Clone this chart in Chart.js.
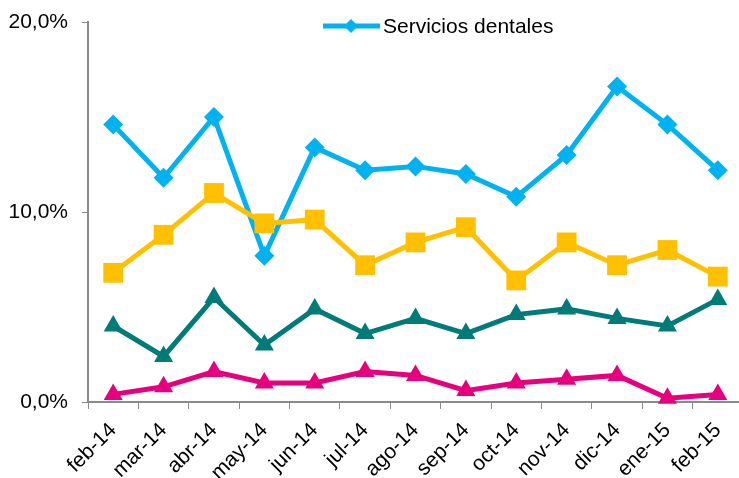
<!DOCTYPE html>
<html lang="es">
<head>
<meta charset="UTF-8" />
<title>Servicios dentales</title>
<style>
  html, body {
    margin: 0;
    padding: 0;
    background: #fff;
    overflow: hidden;
  }
  canvas {
    display: block;
  }
</style>
</head>
<body>
<canvas id="chart" width="745" height="478"></canvas>

<script src="https://cdn.jsdelivr.net/npm/chart.js"></script>
<script>
  // Data
  const months = ['feb-14', 'mar-14', 'abr-14', 'may-14', 'jun-14', 'jul-14', 'ago-14',
                  'sep-14', 'oct-14', 'nov-14', 'dic-14', 'ene-15', 'feb-15'];
  const dentales = [14.6, 11.8, 15.0, 7.7, 13.4, 12.2, 12.4, 12.0, 10.8, 13.0, 16.6, 14.6, 12.2];
  const serieAmarilla = [6.8, 8.8, 11.0, 9.4, 9.6, 7.2, 8.4, 9.2, 6.4, 8.4, 7.2, 8.0, 6.6];
  const serieVerde = [4.0, 2.4, 5.5, 3.0, 4.9, 3.6, 4.4, 3.6, 4.6, 4.9, 4.4, 4.0, 5.4];
  const serieRosa = [0.4, 0.8, 1.6, 1.0, 1.0, 1.6, 1.4, 0.6, 1.0, 1.2, 1.4, 0.2, 0.4];
  const yTicks = [0, 10, 20];
  const legendLabel = 'Servicios dentales';

  const FONT = "'Liberation Sans', Arial, Helvetica, sans-serif";
  const AXIS = '#8a8a8a';

  // Excel-like legend entry: short line with marker in the middle, inside the plot area
  const legendPlugin = {
    id: 'topLegend',
    afterDraw(chart) {
      const c = chart.ctx;
      const area = chart.chartArea;
      const x0 = area.left + 235, y = area.top + 4;
      c.save();
      c.strokeStyle = '#00b2f0';
      c.lineWidth = 5;
      c.beginPath();
      c.moveTo(x0, y);
      c.lineTo(x0 + 57, y);
      c.stroke();
      c.fillStyle = '#00b2f0';
      c.beginPath();
      c.moveTo(x0 + 28, y - 7);
      c.lineTo(x0 + 35, y);
      c.lineTo(x0 + 28, y + 7);
      c.lineTo(x0 + 21, y);
      c.closePath();
      c.fill();
      c.fillStyle = '#000';
      c.font = '21px ' + FONT;
      c.textBaseline = 'middle';
      c.fillText(legendLabel, x0 + 60, y + 1);
      c.restore();
    }
  };

  function series(label, data, color, style, radius, order) {
    return {
      label,
      data,
      borderColor: color,
      backgroundColor: color,
      borderWidth: 5,
      pointStyle: style,
      pointRadius: radius,
      pointHoverRadius: radius,
      pointBorderWidth: 0,
      tension: 0,
      clip: false,
      order
    };
  }

  new Chart(document.getElementById('chart'), {
    type: 'line',
    data: {
      labels: months,
      datasets: [
        series(legendLabel, dentales, '#00b2f0', 'rectRot', 10, 4),
        series('', serieAmarilla, '#ffc000', 'rect', 14, 3),
        series('', serieVerde, '#007b77', 'triangle', 11, 2),
        series('', serieRosa, '#e6007e', 'triangle', 11, 1)
      ]
    },
    options: {
      responsive: false,
      animation: false,
      layout: { autoPadding: false, padding: { top: 22, right: 2, bottom: 0, left: 0 } },
      plugins: {
        legend: { display: false },
        tooltip: { enabled: false }
      },
      scales: {
        x: {
          offset: true,
          grid: {
            offset: true,
            drawOnChartArea: false,
            drawTicks: true,
            tickLength: 7,
            color: AXIS
          },
          border: { color: AXIS, width: 2 },
          ticks: {
            color: '#000',
            font: { family: FONT, size: 21 },
            maxRotation: 45,
            minRotation: 45,
            padding: 9,
            autoSkip: false
          },
          afterFit(scale) {
            scale.height = 76;
            scale.paddingLeft = 0;
            scale.paddingRight = 0;
          }
        },
        y: {
          min: 0,
          max: 20,
          afterBuildTicks(scale) { scale.ticks = yTicks.map(v => ({ value: v })); },
          grid: {
            drawOnChartArea: false,
            drawTicks: true,
            tickLength: 6,
            color: AXIS
          },
          border: { color: AXIS, width: 2 },
          ticks: {
            color: '#000',
            font: { family: FONT, size: 21 },
            padding: 14,
            callback: v => v.toFixed(1).replace('.', ',') + '%'
          },
          afterFit(scale) {
            scale.width = 88;
            scale.paddingTop = 0;
            scale.paddingBottom = 0;
          }
        }
      }
    },
    plugins: [legendPlugin]
  });
</script>
</body>
</html>
